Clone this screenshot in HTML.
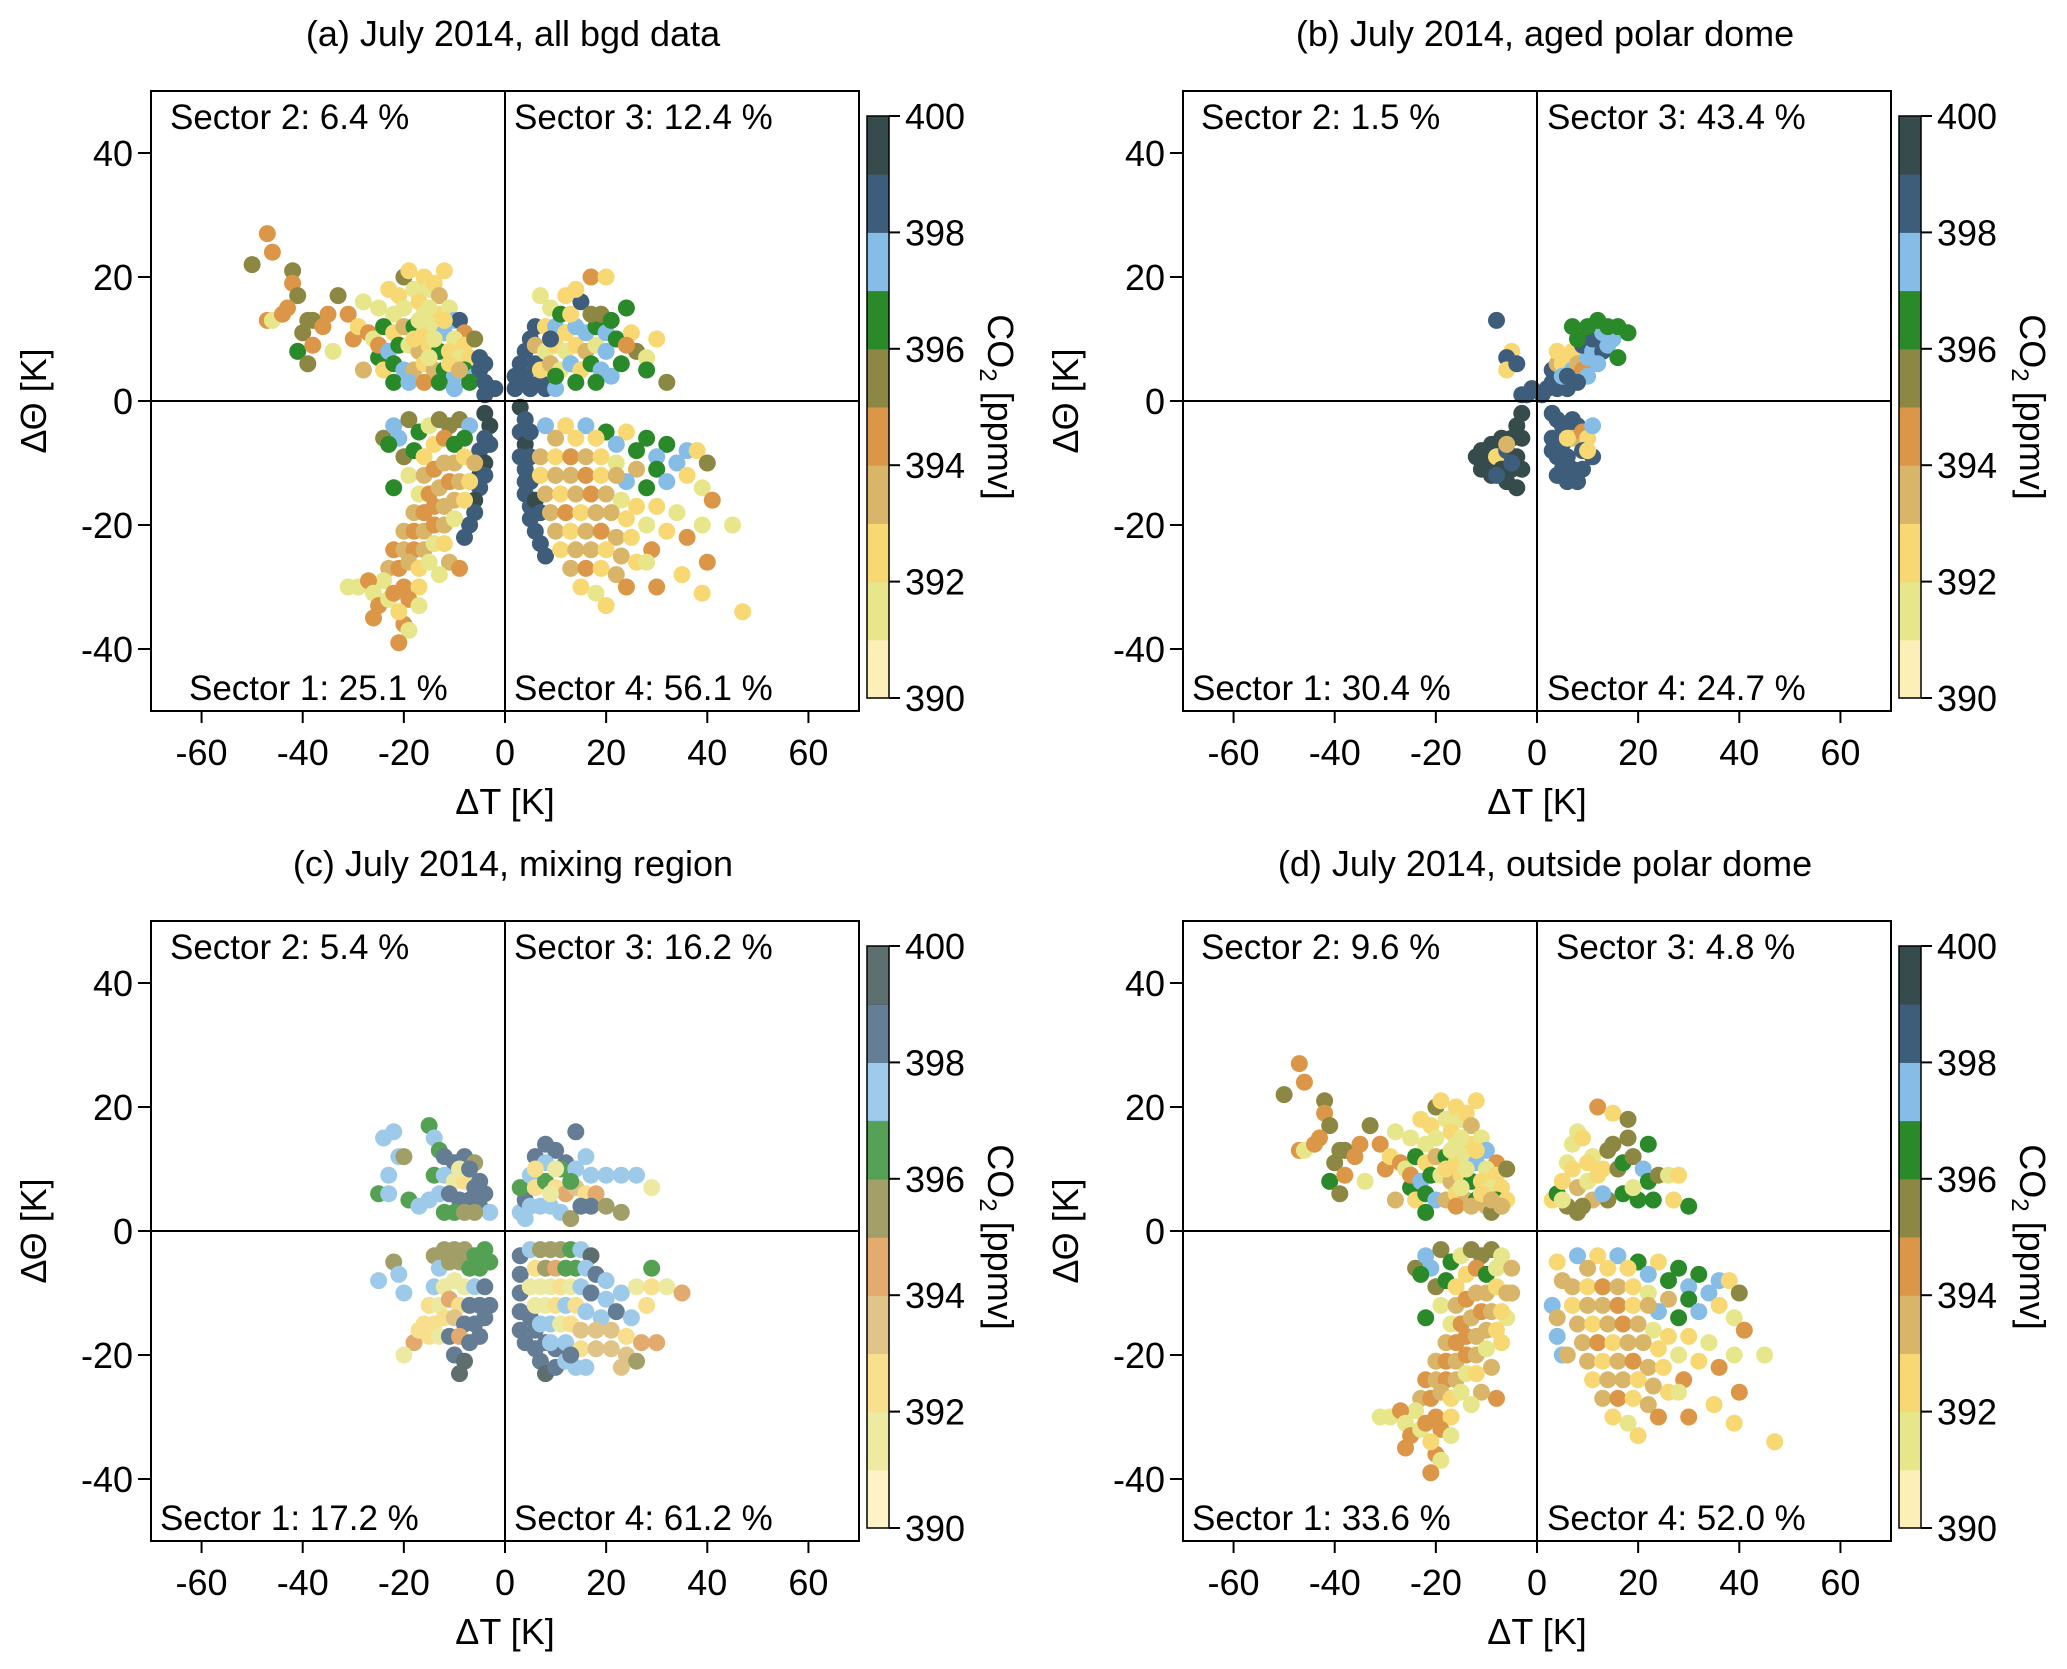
<!DOCTYPE html>
<html><head><meta charset="utf-8">
<style>
html,body{margin:0;padding:0;background:#fff;}
svg{display:block;font-family:"Liberation Sans",Arial,sans-serif;}
</style></head>
<body>
<svg id="fig" width="2067" height="1669" viewBox="0 0 2067 1669" xmlns="http://www.w3.org/2000/svg"></svg>
<script>
// ---- data: [dT, dTheta, CO2 ppmv] ----
const a2=[[-50,22,395],[-47,27,394],[-46,24,394],[-47,13,394],[-46,13,391],[-42,21,395],[-42,19,394],[-41,17,395],[-43,15,394],[-44,14,394],[-39,13,395],[-38,13,395],[-40,11,395],[-41,8,396],[-39,6,395],[-38,9,394],[-36,12,394],[-35,14,394],[-33,17,395],[-31,14,394],[-34,8,391],[-30,10,394],[-29,12,392],[-28,16,391],[-27,11,394],[-26,10,391],[-28,5,393],[-25,7,396],[-25,15,391],[-23,18,392],[-22,14,391],[-21,17,392],[-20,20,395],[-19,21,392],[-18,18,391],[-16,20,392],[-15,18,391],[-14,19,392],[-13,17,393],[-12,21,392],[-17,16,392],[-20,15,391],[-16,14,391],[-13,14,392],[-11,15,391],[-10,13,397],[-9,13,398],[-8,11,394],[-24,12,396],[-22,11,392],[-20,12,393],[-18,12,396],[-16,11,392],[-14,12,391],[-12,11,397],[-10,10,391],[-8,9,392],[-6,10,395],[-25,9,394],[-23,8,397],[-21,9,396],[-19,9,391],[-17,8,393],[-15,9,392],[-13,8,396],[-11,8,392],[-9,7,391],[-7,7,392],[-5,7,398],[-24,5,392],[-22,6,396],[-20,5,397],[-18,5,393],[-16,6,392],[-14,5,393],[-12,5,396],[-10,4,397],[-8,5,396],[-6,4,397],[-5,5,398],[-4,6,398],[-22,3,396],[-19,3,397],[-16,3,394],[-13,3,396],[-10,2,397],[-7,3,396],[-4,3,398],[-3,2,398],[-2,2,398],[-4,1,398],[-17,13,391],[-15,15,391],[-14,10,391],[-12,13,392],[-18,10,392],[-15,7,391],[-11,6,392],[-9,5,393]];
const a3=[[2,2,398],[3,3,398],[4,4,398],[5,2,398],[3,6,398],[4,8,398],[5,10,398],[6,12,398],[2,4,398],[6,6,398],[7,3,398],[8,2,398],[10,2,397],[6,9,393],[8,8,391],[10,9,392],[12,8,391],[14,9,392],[16,8,393],[18,9,391],[20,8,397],[7,5,392],[9,6,393],[11,5,391],[13,6,397],[15,5,392],[17,6,396],[19,5,397],[21,4,397],[23,6,396],[8,12,392],[10,12,397],[12,11,392],[14,12,397],[16,11,397],[18,12,396],[20,11,397],[22,10,396],[9,15,391],[11,14,396],[13,14,392],[15,16,398],[17,14,395],[19,14,395],[21,13,396],[24,15,396],[7,17,391],[12,17,392],[17,20,394],[14,18,392],[20,20,392],[9,10,398],[10,4,396],[14,3,396],[18,3,396],[26,8,395],[28,7,391],[30,10,392],[32,3,395],[28,5,396],[25,11,392],[24,9,394]];
const a1=[[-24,-6,395],[-22,-4,397],[-21,-6,397],[-19,-3,395],[-17,-5,396],[-15,-4,391],[-13,-3,395],[-11,-4,395],[-9,-3,395],[-7,-4,397],[-20,-9,395],[-23,-7,396],[-18,-8,396],[-16,-9,392],[-14,-7,392],[-12,-6,394],[-10,-7,396],[-8,-6,396],[-22,-14,396],[-19,-12,391],[-4,-2,399],[-3,-4,399],[-4,-6,398],[-5,-8,398],[-4,-10,399],[-5,-12,399],[-5,-14,398],[-6,-16,399],[-6,-18,398],[-7,-20,398],[-8,-22,398],[-3,-7,398],[-4,-12,398],[-16,-12,393],[-14,-11,394],[-12,-10,393],[-10,-10,393],[-8,-9,392],[-6,-10,393],[-17,-15,391],[-15,-15,394],[-13,-14,393],[-11,-13,394],[-9,-13,393],[-7,-13,392],[-18,-18,393],[-16,-18,394],[-14,-17,394],[-12,-17,393],[-10,-16,393],[-8,-16,392],[-20,-21,393],[-18,-21,394],[-16,-21,393],[-14,-20,394],[-12,-20,393],[-10,-19,391],[-22,-24,394],[-20,-24,393],[-18,-24,394],[-16,-24,393],[-14,-23,391],[-12,-23,392],[-23,-27,393],[-21,-27,394],[-19,-26,393],[-17,-27,392],[-15,-26,391],[-11,-26,393],[-24,-29,391],[-20,-30,394],[-17,-30,392],[-13,-28,391],[-9,-27,394],[-31,-30,391],[-29,-30,391],[-27,-29,394],[-26,-31,391],[-25,-33,394],[-26,-35,394],[-23,-32,391],[-22,-31,394],[-19,-32,394],[-17,-33,391],[-20,-36,394],[-19,-37,391],[-21,-39,394],[-21,-34,392]];
const a4=[[3,-1,399],[4,-3,398],[3,-5,398],[4,-7,399],[3,-9,398],[4,-11,398],[4,-13,398],[4,-15,398],[5,-17,398],[5,-19,398],[6,-21,398],[7,-23,398],[5,-5,398],[5,-9,398],[5,-13,398],[6,-16,399],[8,-25,398],[7,-18,398],[8,-4,397],[12,-4,392],[16,-4,397],[20,-5,396],[24,-5,392],[28,-6,396],[32,-7,396],[36,-8,397],[38,-8,392],[40,-10,395],[30,-9,397],[26,-8,396],[34,-10,397],[22,-7,397],[18,-6,392],[10,-6,393],[14,-6,392],[30,-11,396],[36,-12,392],[26,-11,393],[32,-13,397],[39,-14,391],[41,-16,394],[28,-14,396],[24,-13,397],[7,-9,393],[10,-9,392],[13,-9,394],[16,-9,393],[19,-9,392],[22,-10,391],[7,-12,392],[10,-12,393],[13,-12,393],[16,-12,394],[19,-12,392],[22,-12,393],[8,-15,393],[11,-15,392],[14,-15,393],[17,-15,394],[20,-15,393],[23,-16,391],[26,-17,392],[30,-17,392],[34,-18,391],[9,-18,393],[12,-18,394],[15,-18,392],[18,-18,393],[21,-18,393],[24,-19,392],[28,-20,391],[32,-21,392],[36,-22,394],[39,-20,391],[10,-21,393],[13,-21,392],[16,-21,393],[19,-21,394],[22,-22,393],[25,-22,392],[29,-24,394],[11,-24,392],[14,-24,393],[17,-24,393],[20,-24,392],[23,-25,393],[26,-26,392],[13,-27,393],[16,-27,394],[19,-27,392],[22,-28,393],[15,-30,392],[18,-31,391],[20,-33,392],[24,-30,394],[30,-30,394],[35,-28,392],[40,-26,394],[39,-31,392],[47,-34,392],[45,-20,391],[28,-26,391]];

const b2=[[-8,13,398],[-5,8,392],[-6,7,398],[-6,5,392],[-4,6,398],[-2,1,398],[-1,2,398],[-3,1,398]];
const b3=[[1,1,398],[2,2,398],[3,3,398],[4,2,398],[5,3,398],[6,2,398],[3,5,398],[4,6,393],[5,6,392],[6,7,392],[7,5,397],[5,4,397],[7,8,392],[8,6,393],[9,5,394],[10,7,397],[9,9,398],[11,8,397],[12,9,397],[13,8,398],[14,9,397],[10,4,397],[11,10,398],[13,11,397],[15,10,397],[12,6,397],[8,10,396],[7,12,396],[10,12,396],[12,13,396],[14,12,396],[16,12,396],[18,11,396],[16,7,396],[4,8,392],[6,4,398],[8,3,398]];
const b1=[[-3,-2,399],[-4,-4,399],[-3,-6,399],[-5,-6,399],[-7,-6,399],[-9,-7,399],[-11,-8,399],[-12,-9,399],[-10,-10,399],[-8,-9,392],[-6,-8,398],[-4,-9,399],[-3,-11,399],[-5,-11,399],[-7,-11,399],[-9,-12,399],[-11,-11,399],[-6,-13,399],[-4,-14,399],[-8,-12,398],[-6,-7,393],[-5,-10,398]];
const b4=[[3,-2,398],[4,-3,398],[5,-4,398],[7,-3,398],[8,-4,398],[3,-6,398],[5,-7,398],[7,-6,393],[9,-5,394],[10,-6,392],[11,-4,397],[9,-8,398],[6,-9,398],[4,-9,398],[3,-8,398],[5,-11,398],[7,-11,398],[9,-11,398],[11,-9,398],[4,-12,398],[6,-13,398],[8,-13,398],[10,-8,392],[6,-6,392]];

const c2=[[-24,15,397],[-22,16,397],[-21,12,397],[-20,12,395],[-23,9,397],[-25,6,396],[-23,6,397],[-19,5,396],[-17,4,397],[-15,5,397],[-15,17,396],[-14,15,397],[-13,13,396],[-12,12,398],[-10,11,398],[-8,12,398],[-6,11,395],[-14,9,396],[-12,9,397],[-10,8,391],[-8,8,392],[-6,7,398],[-4,6,398],[-13,6,397],[-11,6,398],[-9,5,398],[-7,5,398],[-5,4,398],[-3,3,397],[-12,3,396],[-10,3,396],[-8,3,395],[-6,3,395],[-9,10,391],[-7,10,398],[-5,8,398]];
const c3=[[3,3,397],[4,5,398],[3,7,396],[5,9,397],[6,12,398],[8,14,398],[10,13,398],[14,16,398],[12,11,398],[16,12,397],[6,7,392],[8,8,396],[10,7,392],[12,6,394],[14,7,393],[16,6,392],[18,6,394],[5,4,397],[7,4,397],[9,4,397],[11,3,397],[13,2,395],[15,4,398],[17,4,398],[20,4,395],[23,3,395],[8,11,397],[11,10,396],[14,10,397],[17,9,397],[20,9,397],[23,9,397],[26,9,397],[29,7,391],[9,6,391],[13,8,396],[6,10,392],[10,10,391],[4,2,397]];
const c1=[[-25,-8,397],[-22,-5,395],[-21,-7,397],[-20,-10,397],[-14,-4,395],[-12,-3,395],[-10,-3,395],[-8,-3,395],[-6,-4,396],[-4,-3,396],[-13,-6,397],[-11,-5,395],[-9,-5,395],[-7,-6,396],[-5,-6,396],[-3,-5,396],[-14,-9,397],[-12,-9,391],[-10,-8,391],[-8,-9,391],[-6,-9,397],[-4,-9,398],[-15,-12,392],[-13,-12,391],[-11,-11,394],[-9,-12,392],[-7,-12,398],[-5,-12,398],[-3,-12,398],[-16,-15,392],[-14,-15,392],[-12,-14,392],[-10,-14,393],[-8,-15,398],[-6,-15,398],[-4,-14,398],[-18,-18,394],[-15,-17,392],[-13,-17,391],[-11,-17,398],[-9,-17,394],[-7,-18,398],[-5,-17,398],[-20,-20,391],[-10,-20,398],[-8,-21,399],[-9,-23,399],[-17,-16,392]];
const c4=[[3,-4,398],[3,-7,398],[3,-10,398],[3,-13,398],[3,-16,398],[4,-18,398],[6,-19,398],[7,-21,398],[8,-23,399],[10,-22,398],[5,-14,398],[6,-16,398],[8,-18,398],[10,-19,398],[5,-3,397],[7,-3,395],[9,-3,395],[11,-3,395],[13,-3,396],[15,-3,397],[17,-4,399],[6,-6,392],[8,-6,395],[10,-6,394],[12,-6,396],[14,-6,396],[16,-6,397],[18,-7,398],[20,-8,397],[5,-9,391],[7,-9,391],[9,-9,391],[11,-9,392],[13,-9,391],[15,-9,397],[17,-10,398],[20,-11,397],[23,-10,397],[26,-9,391],[29,-9,392],[32,-9,391],[35,-10,394],[29,-6,396],[6,-12,391],[8,-12,391],[10,-12,392],[12,-12,397],[14,-12,392],[16,-13,397],[19,-14,397],[22,-13,398],[25,-14,397],[28,-12,392],[7,-15,397],[9,-15,397],[11,-15,391],[13,-15,392],[15,-16,393],[18,-16,393],[21,-16,393],[24,-17,392],[27,-18,394],[30,-18,394],[9,-18,397],[12,-18,397],[15,-19,392],[18,-19,393],[21,-19,393],[24,-20,393],[26,-21,395],[23,-22,393],[12,-21,397],[14,-22,397],[16,-22,397],[13,-20,398]];

const d2=[[-50,22,395],[-47,27,394],[-46,24,394],[-47,13,394],[-46,13,391],[-42,21,395],[-42,19,394],[-41,17,395],[-43,15,394],[-44,14,394],[-39,13,395],[-38,13,395],[-40,11,395],[-41,8,396],[-39,6,395],[-38,9,394],[-36,12,394],[-35,14,394],[-33,17,395],[-31,14,394],[-34,8,391],[-30,10,394],[-29,12,392],[-28,16,391],[-27,11,394],[-26,10,391],[-28,5,393],[-25,7,396],[-25,15,391],[-23,18,392],[-22,14,391],[-21,17,392],[-20,20,395],[-19,21,392],[-18,18,391],[-16,20,392],[-15,18,391],[-14,19,392],[-13,17,393],[-12,21,392],[-17,16,392],[-20,15,391],[-16,14,391],[-13,14,392],[-11,15,391],[-10,13,397],[-8,11,394],[-24,12,396],[-22,11,392],[-20,12,393],[-18,12,396],[-16,11,392],[-14,12,391],[-12,11,397],[-10,10,391],[-8,9,392],[-6,10,395],[-25,9,394],[-23,8,397],[-21,9,396],[-19,9,391],[-17,8,393],[-15,9,392],[-13,8,396],[-11,8,392],[-9,7,391],[-7,7,392],[-24,5,392],[-22,6,396],[-20,5,397],[-18,5,393],[-16,6,392],[-14,5,393],[-12,5,396],[-10,4,393],[-8,5,396],[-6,5,392],[-22,3,396],[-16,4,394],[-13,4,393],[-9,3,395],[-7,4,393],[-17,13,391],[-15,15,391],[-14,10,391],[-12,13,392],[-18,10,392],[-15,7,391],[-11,6,392],[-9,5,393]];
const d3=[[3,5,392],[4,6,396],[5,8,392],[6,11,391],[7,14,391],[8,16,391],[9,15,392],[7,10,392],[8,7,393],[10,8,391],[12,9,392],[11,12,391],[13,10,392],[14,13,395],[15,14,395],[16,10,395],[17,11,396],[18,15,395],[19,12,395],[21,10,397],[22,14,396],[22,8,396],[24,9,395],[26,9,391],[28,9,392],[30,4,396],[27,5,392],[23,5,396],[20,5,396],[17,6,396],[14,5,395],[11,5,393],[9,4,395],[6,4,395],[8,3,395],[5,5,391],[12,20,394],[15,19,392],[18,18,395],[13,6,397],[19,7,391],[10,11,392]];
const d1=[[-24,-6,395],[-22,-4,397],[-21,-6,397],[-19,-3,395],[-17,-5,396],[-15,-4,391],[-13,-3,395],[-11,-4,395],[-9,-3,395],[-7,-4,391],[-20,-9,395],[-23,-7,396],[-18,-8,396],[-16,-9,392],[-14,-7,392],[-12,-6,394],[-10,-7,396],[-8,-6,391],[-22,-14,396],[-19,-12,391],[-5,-6,393],[-5,-10,393],[-6,-14,391],[-7,-18,392],[-9,-22,393],[-8,-27,394],[-16,-12,393],[-14,-11,394],[-12,-10,393],[-10,-10,393],[-8,-9,392],[-6,-10,393],[-17,-15,391],[-15,-15,394],[-13,-14,393],[-11,-13,394],[-9,-13,393],[-7,-13,392],[-18,-18,393],[-16,-18,394],[-14,-17,394],[-12,-17,393],[-10,-16,393],[-8,-16,392],[-20,-21,393],[-18,-21,394],[-16,-21,393],[-14,-20,394],[-12,-20,393],[-10,-19,391],[-22,-24,394],[-20,-24,393],[-18,-24,394],[-16,-24,393],[-14,-23,391],[-12,-23,392],[-23,-27,393],[-21,-27,394],[-19,-26,393],[-17,-27,392],[-15,-26,391],[-11,-26,393],[-24,-29,391],[-20,-30,394],[-17,-30,392],[-13,-28,391],[-31,-30,391],[-29,-30,391],[-27,-29,394],[-26,-31,391],[-25,-33,394],[-26,-35,394],[-23,-32,391],[-22,-31,394],[-19,-32,394],[-17,-33,391],[-20,-36,394],[-19,-37,391],[-21,-39,394],[-21,-34,392]];
const d4=[[3,-12,397],[4,-17,397],[5,-20,397],[5,-8,393],[4,-5,392],[6,-20,393],[4,-14,393],[8,-4,397],[12,-4,392],[16,-4,397],[20,-5,396],[24,-5,392],[28,-6,396],[32,-7,396],[36,-8,397],[38,-8,392],[40,-10,395],[30,-9,397],[26,-8,396],[34,-10,397],[22,-7,397],[18,-6,392],[10,-6,393],[14,-6,392],[30,-11,396],[36,-12,392],[26,-11,393],[32,-13,397],[39,-14,391],[41,-16,394],[28,-14,396],[24,-13,397],[7,-9,393],[10,-9,392],[13,-9,394],[16,-9,393],[19,-9,392],[22,-10,391],[7,-12,392],[10,-12,393],[13,-12,393],[16,-12,394],[19,-12,392],[22,-12,393],[8,-15,393],[11,-15,392],[14,-15,393],[17,-15,394],[20,-15,393],[23,-16,391],[26,-17,392],[30,-17,392],[34,-18,391],[9,-18,393],[12,-18,394],[15,-18,392],[18,-18,393],[21,-18,393],[24,-19,392],[28,-20,391],[32,-21,392],[36,-22,394],[39,-20,391],[10,-21,393],[13,-21,392],[16,-21,393],[19,-21,394],[22,-22,393],[25,-22,392],[29,-24,394],[11,-24,392],[14,-24,393],[17,-24,393],[20,-24,392],[23,-25,393],[26,-26,392],[13,-27,393],[16,-27,394],[19,-27,392],[22,-28,393],[15,-30,392],[18,-31,391],[20,-33,392],[24,-30,394],[30,-30,394],[35,-28,392],[40,-26,394],[39,-31,392],[47,-34,392],[45,-20,391],[28,-26,391]];

const xTicks=[-60,-40,-20,0,20,40,60];
const yTicks=[-40,-20,0,20,40];
const cbTicks=[390,392,394,396,398,400];
const cbColors=["#fcf0b8","#e8e68a","#f7d873","#d9b56a","#dc9648","#8c8742","#2a8a2a","#86bde6","#3e5d7b","#364b4b"];

const panels=[
 {id:"a",ox:0,oy:0,title:"(a) July 2014, all bgd data",lab:["Sector 1: 25.1 %","Sector 2: 6.4 %","Sector 3: 12.4 %","Sector 4: 56.1 %"],lx:[189,170,514,514],sets:[a2,a3,a1,a4],op:1},
 {id:"b",ox:1032,oy:0,title:"(b) July 2014, aged polar dome",lab:["Sector 1: 30.4 %","Sector 2: 1.5 %","Sector 3: 43.4 %","Sector 4: 24.7 %"],lx:[160,169,515,515],sets:[b2,b3,b1,b4],op:1},
 {id:"c",ox:0,oy:830,title:"(c) July 2014, mixing region",lab:["Sector 1: 17.2 %","Sector 2: 5.4 %","Sector 3: 16.2 %","Sector 4: 61.2 %"],lx:[160,170,514,514],sets:[c2,c3,c1,c4],op:0.8},
 {id:"d",ox:1032,oy:830,title:"(d) July 2014, outside polar dome",lab:["Sector 1: 33.6 %","Sector 2: 9.6 %","Sector 3: 4.8 %","Sector 4: 52.0 %"],lx:[160,169,524,515],sets:[d2,d3,d1,d4],op:1}
];

const NS="http://www.w3.org/2000/svg";
const svg=document.getElementById('fig');
function mk(tag,attrs,parent,text){const e=document.createElementNS(NS,tag);for(const k in attrs)e.setAttribute(k,attrs[k]);if(text!==undefined)e.textContent=text;(parent||svg).appendChild(e);return e;}
function colorOf(v){let i=Math.floor(v-390);if(i<0)i=0;if(i>9)i=9;return cbColors[i];}

panels.forEach(p=>{
 const L=151+p.ox,R=859+p.ox,T=91+p.oy,B=711+p.oy;
 const xs=v=>L+(v+70)*(R-L)/140;
 const ys=v=>T+(50-v)*(B-T)/100;
 const g=mk('g',{});
 
 
 const t=mk('text',{x:(L+R)/2+8,y:46+p.oy,'text-anchor':'middle','font-size':36},g,p.title);
 
 
 const pg=mk('g',{opacity:p.op},g);
 
 
 p.sets.forEach(s=>s.forEach(d=>{
  const c=mk('circle',{cx:xs(d[0]).toFixed(1),cy:ys(d[1]).toFixed(1),r:8.5,fill:colorOf(d[2])},pg);
  
  
 }));
 const fr=mk('rect',{x:L,y:T,width:R-L,height:B-T,fill:'none',stroke:'#000','stroke-width':2},g);
 
 
 const zx=mk('line',{x1:xs(0),x2:xs(0),y1:T,y2:B,stroke:'#000','stroke-width':2},g);
 
 
 const zy=mk('line',{x1:L,x2:R,y1:ys(0),y2:ys(0),stroke:'#000','stroke-width':2},g);
 
 
 xTicks.forEach(v=>{
  const l=mk('line',{x1:xs(v),x2:xs(v),y1:B,y2:B+12,stroke:'#000','stroke-width':2},g);
  
  
  const tx=mk('text',{x:xs(v),y:B+54,'text-anchor':'middle','font-size':36},g,String(v));
  
  
 });
 yTicks.forEach(v=>{
  const l=mk('line',{x1:L-13,x2:L,y1:ys(v),y2:ys(v),stroke:'#000','stroke-width':2},g);
  
  
  const tx=mk('text',{x:L-18,y:ys(v)+13,'text-anchor':'end','font-size':36},g,String(v));
  
  
 });
 const xt=mk('text',{x:(L+R)/2,y:814+p.oy,'text-anchor':'middle','font-size':36},g,'\u0394T [K]');
 
 
 const yt=mk('text',{x:0,y:0,'text-anchor':'middle','font-size':36,transform:`translate(${46+p.ox},${ys(0)}) rotate(-90)`},g,'\u0394\u0398 [K]');
 
 
 const ly=[700,129,129,700];
 p.lab.forEach((s,i)=>{
  const st=mk('text',{x:p.lx[i]+p.ox,y:ly[i]+p.oy,'font-size':35},g,s);
  
  
 });
 const cL=867+p.ox,cR=889+p.ox,cT=116+p.oy,cB=698+p.oy;
 const cs=v=>cB-(v-390)*(cB-cT)/10;
 const cb=mk('g',{},g);
 
 
 cbColors.forEach((c,i)=>{
  const r=mk('rect',{x:cL,y:cs(391+i),width:cR-cL,height:cs(390+i)-cs(391+i)+0.5,fill:c,opacity:p.op},cb);
  
  
 });
 mk('rect',{x:cL,y:cT,width:cR-cL,height:cB-cT,fill:'none',stroke:'#000','stroke-width':1.5},cb);
 cbTicks.forEach(v=>{
  const l=mk('line',{x1:cR,x2:cR+11,y1:cs(v),y2:cs(v),stroke:'#000','stroke-width':2},cb);
  
  
  const tx=mk('text',{x:cR+16,y:cs(v)+13,'font-size':36},cb,String(v));
  
  
 });
 const ct=mk('text',{x:0,y:0,'text-anchor':'middle','font-size':36,transform:`translate(${988+p.ox},${(cT+cB)/2}) rotate(90)`},cb);
 
 
 mk('tspan',{},ct,'CO');
 mk('tspan',{'font-size':24,dy:8},ct,'2');
 mk('tspan',{dy:-8},ct,' [ppmv]');
});
</script>
</body></html>
